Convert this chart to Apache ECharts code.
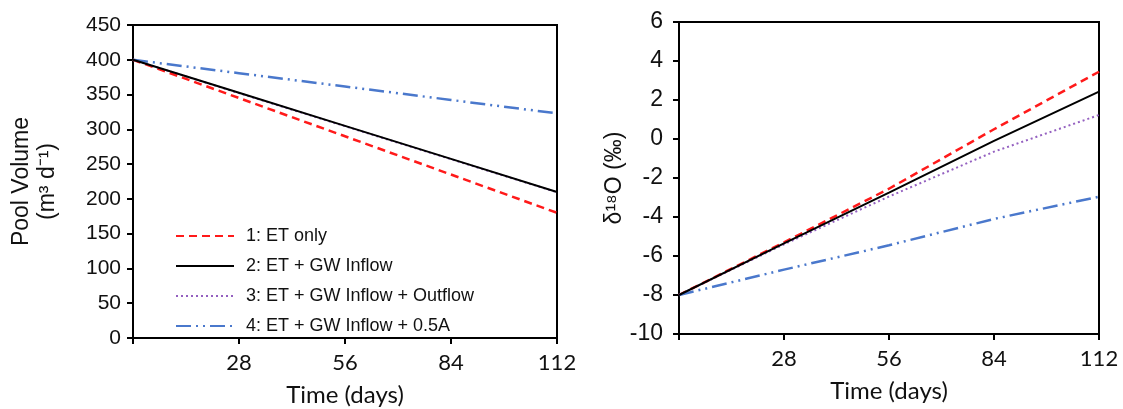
<!DOCTYPE html>
<html>
<head>
<meta charset="utf-8">
<script src="https://cdn.jsdelivr.net/npm/echarts@6/dist/echarts.min.js"></script>
<style>
  html, body { margin: 0; padding: 0; background: #fff; }
  #chart { width: 1123px; height: 409px; }
</style>
</head>
<body>
<div id="chart"></div>
<script>
// Simulation time (days)
const days = [0, 28, 56, 84, 112];

// Scenario names
const scenarios = [
  '1: ET only',
  '2: ET + GW Inflow',
  '3: ET + GW Inflow + Outflow',
  '4: ET + GW Inflow + 0.5A'
];

// Pool volume per scenario
const volEtOnly    = [400, 345, 290, 235, 180];
const volGwIn      = [400, 352.5, 305, 257.5, 210];
const volGwInOut   = [400, 352, 304.5, 257, 209.5];
const volHalfArea  = [400, 380.75, 361.5, 342.25, 323];

// delta-18O of pool water per scenario
const d18EtOnly    = [-8, -5.3, -2.55, 0.5, 3.45];
const d18GwIn      = [-8, -5.35, -2.75, -0.1, 2.43];
const d18GwInOut   = [-8, -5.4, -2.95, -0.65, 1.23];
const d18HalfArea  = [-8, -6.7, -5.45, -4.1, -2.96];

const styles = [
  { color: '#ff1a1a', width: 2.5, type: [8, 5] },
  { color: '#000000', width: 2, type: 'solid' },
  { color: '#9460c0', width: 2, type: [2, 3] },
  { color: '#4a78cc', width: 2.5, type: [15, 5, 2, 5, 2, 5] }
];

function pairs(ys) { return days.map((d, i) => [d, ys[i]]); }

function lineSeries(name, ys, idx, axisIdx, z) {
  const s = styles[idx];
  return {
    name: name,
    type: 'line',
    xAxisIndex: axisIdx,
    yAxisIndex: axisIdx,
    data: pairs(ys),
    symbol: 'none',
    smooth: false,
    z: z,
    lineStyle: { color: s.color, width: s.width, type: s.type },
    itemStyle: { color: s.color }
  };
}

const tickFont = 'Liberation Sans, Arial, sans-serif';
const xFont = 'Lato, Liberation Sans, sans-serif';

function xAxisCfg(gridIndex) {
  return {
    type: 'value', gridIndex: gridIndex,
    min: 0, max: 112, interval: 28,
    axisLine: { show: true, onZero: false, lineStyle: { color: '#000', width: 2 } },
    axisTick: { show: true, length: 6, lineStyle: { color: '#000', width: 2 } },
    splitLine: { show: false },
    axisLabel: {
      color: '#111', fontSize: 22, fontFamily: xFont, margin: 14,
      formatter: v => (v === 0 ? '' : String(v))
    },
    name: 'Time (days)', nameLocation: 'middle', nameGap: 45,
    nameTextStyle: { color: '#111', fontSize: 24, fontFamily: xFont }
  };
}

const chart = echarts.init(document.getElementById('chart'), null, { renderer: 'canvas' });

chart.setOption({
  animation: false,
  backgroundColor: '#fff',
  grid: [
    { left: 133, top: 25, width: 424, height: 313, outerBoundsMode: 'none', containLabel: false,
      show: true, borderColor: '#000', borderWidth: 2, backgroundColor: 'transparent' },
    { left: 679, top: 22, width: 420, height: 312, outerBoundsMode: 'none', containLabel: false,
      show: true, borderColor: '#000', borderWidth: 2, backgroundColor: 'transparent' }
  ],
  legend: {
    orient: 'vertical',
    left: 170, top: 222,
    itemWidth: 58, itemHeight: 14, itemGap: 12,
    itemStyle: { opacity: 0 },
    data: scenarios,
    textStyle: { color: '#111', fontSize: 18, fontFamily: tickFont, lineHeight: 18, padding: [0, 0, 0, 7] }
  },
  xAxis: [xAxisCfg(0), xAxisCfg(1)],
  yAxis: [
    {
      type: 'value', gridIndex: 0, min: 0, max: 450, interval: 50,
      axisLine: { show: true, onZero: false, lineStyle: { color: '#000', width: 2 } },
      axisTick: { show: true, length: 6, lineStyle: { color: '#000', width: 2 } },
      splitLine: { show: false },
      axisLabel: { color: '#111', fontSize: 21, fontFamily: tickFont, margin: 12 },
      name: 'Pool Volume\n(m³ d⁻¹)', nameLocation: 'middle', nameGap: 72, nameRotate: 90,
      nameTextStyle: { color: '#111', fontSize: 23, fontFamily: tickFont, lineHeight: 26, align: 'center' }
    },
    {
      type: 'value', gridIndex: 1, min: -10, max: 6, interval: 2,
      axisLine: { show: true, onZero: false, lineStyle: { color: '#000', width: 2 } },
      axisTick: { show: true, length: 6, lineStyle: { color: '#000', width: 2 } },
      splitLine: { show: false },
      axisLabel: { color: '#111', fontSize: 23, fontFamily: tickFont, margin: 16 },
      name: 'δ¹⁸O (‰)', nameLocation: 'middle', nameGap: 48, nameRotate: 90,
      nameTextStyle: { color: '#111', fontSize: 23, fontFamily: tickFont }
    }
  ],
  series: [
    lineSeries(scenarios[2], volGwInOut, 2, 0, 2),
    lineSeries(scenarios[0], volEtOnly, 0, 0, 3),
    lineSeries(scenarios[1], volGwIn, 1, 0, 4),
    lineSeries(scenarios[3], volHalfArea, 3, 0, 3),
    lineSeries(scenarios[2], d18GwInOut, 2, 1, 2),
    lineSeries(scenarios[0], d18EtOnly, 0, 1, 3),
    lineSeries(scenarios[1], d18GwIn, 1, 1, 4),
    lineSeries(scenarios[3], d18HalfArea, 3, 1, 3)
  ]
});
</script>
</body>
</html>
